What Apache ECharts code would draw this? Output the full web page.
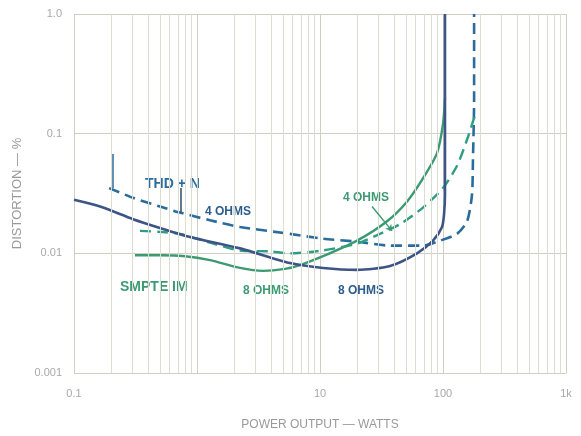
<!DOCTYPE html>
<html>
<head>
<meta charset="utf-8">
<script src="https://cdn.jsdelivr.net/npm/echarts@6/dist/echarts.min.js"></script>
<style>html,body{margin:0;padding:0;background:#fff}#c{width:581px;height:436px}</style>
</head>
<body>
<div id="c"></div>
<script>
// ---- data (power in watts, distortion in %) ----
const thd8Power  = [0.1, 0.163, 0.302, 0.5, 0.877, 2.24, 5.70, 10.6, 20.0, 37.1, 61.5, 82.9, 98.2, 101.9, 103.8, 103.8];
const thd8Dist   = [0.0280, 0.0246, 0.0193, 0.0163, 0.0137, 0.0110, 0.00829, 0.00755, 0.00728, 0.00784, 0.0100, 0.01276, 0.0166, 0.0211, 0.0308, 1.0];

const thd4Power  = [0.193, 0.302, 0.5, 0.728, 1.276, 2.24, 5.70, 10.6, 20.0, 37.1, 68.7, 94.6, 130, 157, 172, 175, 179, 179];
const thd4Dist   = [0.0351, 0.0291, 0.0246, 0.0219, 0.0189, 0.0166, 0.01455, 0.01324, 0.01252, 0.01161, 0.01161, 0.01276, 0.01455, 0.01854, 0.0308, 0.0570, 0.2, 1.0];

const im8Power   = [0.313, 0.5, 0.798, 1.276, 2.24, 3.44, 5.19, 6.88, 10.6, 20.0, 35.1, 50.9, 68.7, 89.4, 100, 103.8];
const im8Dist    = [0.00963, 0.00963, 0.00946, 0.00877, 0.00755, 0.00714, 0.00741, 0.00798, 0.00946, 0.01276, 0.01854, 0.0270, 0.0423, 0.0688, 0.1206, 0.2];

const im4Power   = [0.344, 0.5, 0.728, 1.276, 2.24, 3.92, 5.70, 10.6, 20.0, 30.7, 44.7, 68.7, 100, 130, 157, 182];
const im4Dist    = [0.0154, 0.0151, 0.01455, 0.01229, 0.01057, 0.01038, 0.0100, 0.01057, 0.01206, 0.01455, 0.01754, 0.0241, 0.0351, 0.0539, 0.0894, 0.1427];

const xTickValues = [0.1, 1, 10, 100, 1000];
const xTickLabels = ['0.1', '', '10', '100', '1k'];
const yTickValues = [0.001, 0.01, 0.1, 1];
const yTickLabels = ['0.001', '0.01', '0.1', '1.0'];

// ---- helpers ----
const zip = (a, b) => a.map((v, i) => [v, b[i]]);
const minorX = [];
for (let d = 0.1; d < 1000; d *= 10) for (let k = 2; k <= 9; k++) minorX.push(+(d * k).toPrecision(3));
const lab = (vals, labels) => v => {
  const e = Math.round(Math.log10(v));
  const i = vals.findIndex(t => Math.round(Math.log10(t)) === e);
  return i >= 0 ? labels[i] : '';
};

const NAVY = '#3d5586', BLUE = '#2a6d9c', GREEN = '#3c9a72', GREEN2 = '#2f9d82';
const FONT = 'Liberation Sans, Arial, sans-serif';

const chart = echarts.init(document.getElementById('c'), null, {renderer: 'canvas'});
chart.setOption({
  animation: false,
  backgroundColor: '#fff',
  grid: {left: 74, top: 14, width: 492, height: 369, show: false},
  xAxis: {
    type: 'log', logBase: 10, min: 0.1, max: 1000,
    axisLine: {show: false}, axisTick: {show: false},
    splitLine: {show: true, lineStyle: {color: '#cfcfc2', width: 1}},
    axisLabel: {color: '#a8a8a8', fontSize: 11, fontFamily: FONT, margin: 15, formatter: lab(xTickValues, xTickLabels)},
    name: 'POWER OUTPUT \u2014 WATTS', nameLocation: 'middle', nameGap: 46,
    nameTextStyle: {color: '#9a9a9a', fontSize: 12, fontFamily: FONT}
  },
  yAxis: {
    type: 'log', logBase: 10, min: 0.001, max: 1,
    axisLine: {show: false}, axisTick: {show: false},
    splitLine: {show: true, lineStyle: {color: '#cfcfc2', width: 1}},
    axisLabel: {color: '#a8a8a8', fontSize: 11, fontFamily: FONT, margin: 12, formatter: lab(yTickValues, yTickLabels)},
    name: 'DISTORTION \u2014 %', nameLocation: 'middle', nameGap: 43, nameRotate: 90,
    nameTextStyle: {color: '#9a9a9a', fontSize: 13, fontFamily: FONT}
  },
  series: [
    {
      type: 'line', data: [], z: 1, silent: true,
      markLine: {
        silent: true, symbol: 'none', label: {show: false},
        lineStyle: {color: '#dcdcd0', type: 'solid', width: 1},
        data: minorX.map(v => ({xAxis: v}))
      }
    },
    {
      name: 'THD+N 4 ohms', type: 'line', data: zip(thd4Power, thd4Dist), z: 3,
      showSymbol: false, smooth: 0.25,
      lineStyle: {color: BLUE, width: 2.6, type: [11, 6]},
      markLine: {
        silent: true, symbol: 'none', label: {show: false},
        lineStyle: {color: BLUE, width: 1.5, type: 'solid'},
        data: [
          [{coord: [0.207, 0.0675]}, {coord: [0.207, 0.0351]}],
          [{coord: [0.741, 0.0351], lineStyle: {color: '#2f4a6a'}}, {coord: [0.741, 0.0219]}]
        ]
      }
    },
    {
      name: 'THD+N 8 ohms', type: 'line', data: zip(thd8Power, thd8Dist), z: 4,
      showSymbol: false, smooth: 0.25,
      lineStyle: {color: NAVY, width: 2.6}
    },
    {
      name: 'SMPTE IM 4 ohms', type: 'line', data: zip(im4Power, im4Dist), z: 3,
      showSymbol: false, smooth: 0.25,
      lineStyle: {color: GREEN2, width: 2.4, type: [11, 6]},
      markLine: {
        silent: true, symbol: ['none', 'arrow'], symbolSize: 6, label: {show: false},
        lineStyle: {color: GREEN, width: 1.4, type: 'solid'},
        data: [[{coord: [26.5, 0.0246]}, {coord: [38.5, 0.0154]}]]
      }
    },
    {
      name: 'SMPTE IM 8 ohms', type: 'line', data: zip(im8Power, im8Dist), z: 3,
      showSymbol: false, smooth: 0.25,
      lineStyle: {color: GREEN, width: 2.4}
    }
  ],
  graphic: [
    {type: 'text', left: 145, top: 177, style: {text: 'THD + N', fill: BLUE, font: 'bold 14px ' + FONT}},
    {type: 'text', left: 205, top: 206, style: {text: '4 OHMS', fill: '#2a5d8c', font: 'bold 12px ' + FONT}},
    {type: 'text', left: 120, top: 280, style: {text: 'SMPTE IM', fill: GREEN, font: 'bold 14px ' + FONT}},
    {type: 'text', left: 243, top: 285, style: {text: '8 OHMS', fill: GREEN, font: 'bold 12px ' + FONT}},
    {type: 'text', left: 338, top: 285, style: {text: '8 OHMS', fill: '#2a5d8c', font: 'bold 12px ' + FONT}},
    {type: 'text', left: 343, top: 192, style: {text: '4 OHMS', fill: GREEN, font: 'bold 12px ' + FONT}}
  ]
});
</script>
</body>
</html>
